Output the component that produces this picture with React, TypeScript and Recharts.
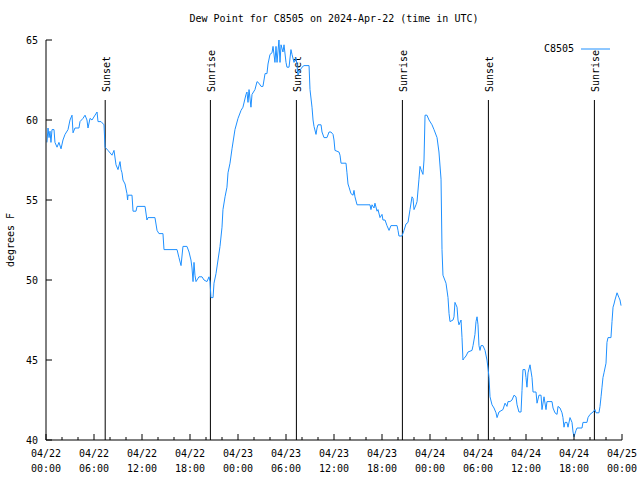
import { LineChart, Line, XAxis, YAxis, ReferenceLine, Legend } from "recharts";

const FONT = '"DejaVu Sans Mono", monospace';
const LINE_COLOR = "#1e90ff";

// hours since 04/22 00:00 UTC
const hours = [
  0.12, 0.25, 0.38, 0.5, 0.62, 0.75, 1.0, 1.12, 1.38, 1.62,
  1.88, 2.12, 2.38, 2.75, 3.0, 3.25, 3.38, 3.62, 4.12, 4.25,
  4.62, 4.88, 5.12, 5.25, 5.5, 5.75, 6.38, 6.5, 6.88, 7.25,
  7.38, 7.75, 8.25, 8.5, 8.75, 9.0, 9.25, 9.38, 9.5, 9.62,
  9.88, 10.12, 10.2, 10.25, 10.75, 10.88, 11.25, 11.38, 12.38, 12.62,
  12.75, 13.62, 13.88, 14.12, 14.62, 14.75, 16.38, 16.62, 16.88, 17.12,
  17.62, 17.88, 18.12, 18.25, 18.38, 18.5, 18.62, 18.75, 19.12, 19.5,
  19.75, 20.12, 20.38, 20.5, 20.62, 20.88, 21.0, 21.25, 21.5, 21.75,
  22.0, 22.12, 22.38, 22.62, 22.75, 23.0, 23.25, 23.62, 24.0, 24.38,
  24.62, 25.0, 25.12, 25.25, 25.38, 25.62, 25.75, 26.12, 26.38, 26.62,
  26.88, 27.12, 27.38, 27.62, 27.75, 28.0, 28.25, 28.38, 28.62, 28.75,
  28.88, 29.12, 29.25, 29.38, 29.62, 29.75, 30.0, 30.12, 30.38, 30.62,
  30.75, 31.0, 31.25, 31.38, 31.5, 31.75, 32.0, 32.25, 32.88, 33.0,
  33.25, 33.38, 33.5, 33.75, 33.88, 34.0, 34.38, 34.5, 34.75, 35.12,
  35.38, 35.62, 35.88, 36.0, 36.12, 36.62, 36.75, 36.88, 37.5, 37.62,
  37.75, 37.88, 38.12, 38.38, 38.5, 38.62, 38.88, 40.5, 40.62, 40.75,
  41.0, 41.12, 41.38, 41.5, 41.75, 42.0, 42.12, 42.38, 42.62, 42.75,
  42.88, 43.12, 43.88, 44.0, 44.12, 44.5, 44.75, 45.0, 45.25, 45.5,
  45.75, 45.88, 46.0, 46.25, 46.38, 46.62, 46.75, 46.88, 47.12, 47.25,
  47.38, 47.62, 47.88, 48.25, 48.5, 48.88, 49.12, 49.38, 49.5, 49.62,
  50.0, 50.25, 50.38, 50.5, 50.88, 51.0, 51.12, 51.38, 51.5, 51.62,
  51.88, 52.0, 52.12, 52.25, 52.5, 52.75, 53.25, 53.38, 53.62, 53.75,
  53.88, 54.0, 54.12, 54.25, 54.38, 54.62, 54.88, 55.12, 55.25, 55.38,
  55.5, 55.75, 56.0, 56.25, 56.38, 56.62, 57.12, 57.38, 57.62, 57.75,
  58.0, 58.25, 58.5, 58.75, 58.88, 59.12, 59.38, 59.5, 59.62, 59.88,
  60.0, 60.12, 60.25, 60.5, 60.75, 60.88, 61.25, 61.38, 61.62, 61.88,
  62.0, 62.25, 62.5, 62.62, 63.25, 63.38, 63.62, 63.88, 64.0, 64.25,
  64.5, 64.62, 64.75, 64.88, 65.12, 65.25, 65.5, 65.75, 65.88, 66.0,
  66.25, 66.38, 67.0, 67.12, 67.62, 67.75, 68.0, 68.25, 68.38, 68.62,
  68.75, 69.12, 69.25, 69.38, 69.5, 69.62, 69.75, 70.0, 70.12, 70.25,
  70.62, 70.75, 70.88, 71.0, 71.12, 71.38, 71.62, 71.75, 71.88,
];

const dewPoint = [
  58.6, 59.5, 58.9, 59.3, 58.6, 59.4, 59.4, 58.6, 58.3, 58.6,
  58.2, 58.75, 59.1, 59.4, 60.0, 60.3, 59.2, 59.5, 59.5, 59.9,
  60.1, 60.3, 60.0, 59.5, 60.1, 60.0, 60.5, 59.9, 59.9, 59.7,
  58.3, 58.1, 57.8, 58.1, 57.2, 56.9, 57.4, 56.9, 56.7, 56.25,
  56.0, 55.4, 55.0, 55.3, 55.3, 54.3, 54.3, 54.6, 54.6, 53.75,
  53.9, 53.9, 53.1, 52.9, 52.9, 51.9, 51.9, 51.4, 50.9, 52.1,
  52.1, 51.75, 51.25, 50.75, 49.9, 51.1, 50.3, 49.9, 50.2, 50.2,
  50.0, 49.9, 50.2, 49.9, 48.9, 48.9, 49.8, 50.4, 51.25, 52.1,
  53.3, 54.4, 55.2, 55.8, 56.7, 57.3, 58.2, 59.4, 60.1, 60.6,
  60.8, 61.6, 61.75, 61.1, 61.9, 60.8, 61.6, 61.9, 62.4, 62.3,
  62.1, 62.1, 62.9, 62.9, 63.5, 64.1, 64.2, 64.6, 63.6, 64.6,
  63.6, 65.0, 63.6, 64.7, 64.25, 64.7, 63.6, 63.3, 63.3, 64.4,
  64.1, 63.6, 63.9, 63.4, 62.8, 63.1, 63.3, 63.4, 63.4, 61.9,
  60.8, 60.0, 59.6, 59.1, 59.5, 59.7, 59.7, 59.25, 58.9, 58.9,
  59.25, 59.25, 59.1, 58.75, 58.1, 58.0, 57.8, 57.3, 57.3, 56.7,
  56.0, 55.8, 55.4, 55.3, 55.6, 55.2, 54.7, 54.7, 54.4, 54.7,
  54.5, 54.8, 54.3, 54.4, 53.9, 54.1, 53.75, 53.75, 53.4, 53.25,
  53.1, 53.4, 53.4, 53.1, 52.75, 52.75, 53.1, 53.5, 53.6, 54.4,
  55.2, 55.1, 54.4, 54.7, 54.9, 56.3, 57.1, 56.9, 56.6, 57.5,
  60.3, 60.3, 60.0, 59.7, 59.4, 58.9, 58.0, 56.3, 51.9, 50.3,
  49.8, 48.9, 47.9, 47.4, 47.5, 47.7, 48.6, 48.3, 47.5, 47.2,
  47.5, 46.4, 45.0, 45.1, 45.25, 45.5, 45.6, 45.9, 46.6, 47.4,
  47.7, 47.2, 45.9, 45.6, 45.9, 45.9, 45.6, 45.0, 44.5, 43.9,
  42.7, 42.2, 42.0, 41.7, 41.4, 41.75, 41.9, 42.3, 42.1, 42.4,
  42.4, 42.5, 42.8, 42.7, 42.2, 41.75, 41.75, 43.1, 44.4, 44.4,
  43.9, 43.3, 44.2, 44.7, 43.9, 43.0, 43.0, 42.3, 42.8, 42.8,
  41.9, 42.7, 41.9, 42.4, 42.4, 42.0, 41.7, 41.6, 42.1, 42.0,
  41.7, 41.4, 40.8, 41.1, 41.1, 40.8, 41.4, 41.1, 40.5, 40.2,
  40.6, 40.75, 40.75, 41.1, 41.1, 41.4, 41.6, 41.7, 41.75, 41.9,
  41.7, 41.7, 42.1, 42.7, 43.3, 43.9, 44.2, 44.8, 46.1, 46.4,
  46.4, 47.4, 48.3, 48.5, 48.75, 49.2, 48.9, 48.75, 48.4,
];

const xTicks = [
  0, 2, 4, 6, 8, 10, 12, 14, 16, 18, 20, 22, 24, 26, 28, 30, 32, 34, 36,
  38, 40, 42, 44, 46, 48, 50, 52, 54, 56, 58, 60, 62, 64, 66, 68, 70, 72,
];
const dateLabels = [
  "04/22", "04/22", "04/22", "04/22", "04/23", "04/23", "04/23",
  "04/23", "04/24", "04/24", "04/24", "04/24", "04/25",
];
const timeLabels = [
  "00:00", "06:00", "12:00", "18:00", "00:00", "06:00", "12:00",
  "18:00", "00:00", "06:00", "12:00", "18:00", "00:00",
];
const yTicks = [40, 45, 50, 55, 60, 65];

const sunLabels = ["Sunset", "Sunrise", "Sunset", "Sunrise", "Sunset", "Sunrise"];
const sunHours = [7.4, 20.55, 31.3, 44.55, 55.3, 68.55];
const sunLineTop = 61.25; // lines stop below the rotated labels

const chartData = hours.map((h, i) => ({ hour: h, dew: dewPoint[i] }));

function BottomTick(props: any) {
  const { x, y, payload } = props;
  const v = payload.value;
  const major = v % 6 === 0;
  return (
    <g>
      <line x1={x} y1={y} x2={x} y2={y - (major ? 6 : 3)} stroke="#000" />
      {major && (
        <text x={x} y={y} textAnchor="middle" fontFamily={FONT} fontSize={10} fill="#000">
          <tspan x={x} dy={17}>{dateLabels[v / 6]}</tspan>
          <tspan x={x} dy={15}>{timeLabels[v / 6]}</tspan>
        </text>
      )}
    </g>
  );
}

function TopTick(props: any) {
  const { x, y, payload } = props;
  const major = payload.value % 6 === 0;
  return <line x1={x} y1={y} x2={x} y2={y + (major ? 6 : 3)} stroke="#000" />;
}

function LeftTick(props: any) {
  const { x, y, payload } = props;
  return (
    <g>
      <line x1={x} y1={y} x2={x + 6} y2={y} stroke="#000" />
      <text x={x - 8} y={y + 4} textAnchor="end" fontFamily={FONT} fontSize={10} fill="#000">
        {payload.value}
      </text>
    </g>
  );
}

function RightTick(props: any) {
  const { x, y } = props;
  return <line x1={x} y1={y} x2={x - 6} y2={y} stroke="#000" />;
}

function SunLabel({ viewBox, text }: any) {
  const tx = viewBox.x + 4.5;
  const ty = viewBox.y - 8;
  return (
    <text
      x={tx}
      y={ty}
      transform={`rotate(-90 ${tx} ${ty})`}
      fontFamily={FONT}
      fontSize={10}
      fill="#000"
    >
      {text}
    </text>
  );
}

function YLabel({ viewBox }: any) {
  const tx = viewBox.x + 14;
  const ty = viewBox.y + viewBox.height / 2;
  return (
    <text
      x={tx}
      y={ty}
      transform={`rotate(-90 ${tx} ${ty})`}
      textAnchor="middle"
      fontFamily={FONT}
      fontSize={10}
      fill="#000"
    >
      degrees F
    </text>
  );
}

function LegendContent() {
  return (
    <div style={{ display: "flex", alignItems: "center", fontFamily: FONT, fontSize: 10, lineHeight: "10px" }}>
      <span style={{ width: 34, textAlign: "right" }}>C8505</span>
      <svg width={36} height={10}>
        <line x1={7} y1={5} x2={36} y2={5} stroke={LINE_COLOR} />
      </svg>
    </div>
  );
}

export default function App() {
  return (
    <div style={{ position: "absolute", left: 0, top: 0, width: 640, height: 480, background: "#fff" }}>
      <div
        style={{
          position: "absolute",
          left: 46,
          top: 13,
          width: 576,
          textAlign: "center",
          fontFamily: FONT,
          fontSize: 10,
          lineHeight: "12px",
        }}
      >
        Dew Point for C8505 on 2024-Apr-22 (time in UTC)
      </div>
      <LineChart
        width={640}
        height={480}
        data={chartData}
        margin={{ top: 40, right: 18, bottom: 0, left: 0 }}
      >
        <XAxis
          dataKey="hour"
          type="number"
          domain={[0, 72]}
          ticks={xTicks}
          interval={0}
          height={40}
          tickSize={0}
          tickMargin={0}
          tickLine={false}
          axisLine={{ stroke: "#000" }}
          tick={<BottomTick />}
          allowDataOverflow
        />
        <XAxis
          xAxisId="top"
          orientation="top"
          type="number"
          domain={[0, 72]}
          ticks={xTicks}
          interval={0}
          height={0}
          tickSize={0}
          tickMargin={0}
          tickLine={false}
          axisLine={{ stroke: "#000" }}
          tick={<TopTick />}
          allowDataOverflow
        />
        <YAxis
          type="number"
          domain={[40, 65]}
          ticks={yTicks}
          interval={0}
          width={46}
          tickSize={0}
          tickMargin={0}
          tickLine={false}
          axisLine={{ stroke: "#000" }}
          tick={<LeftTick />}
          label={(p: any) => <YLabel viewBox={p.viewBox} />}
          allowDataOverflow
        />
        <YAxis
          yAxisId="right"
          orientation="right"
          type="number"
          domain={[40, 65]}
          ticks={yTicks}
          interval={0}
          width={0}
          tickSize={0}
          tickMargin={0}
          tickLine={false}
          axisLine={{ stroke: "#000" }}
          tick={<RightTick />}
          allowDataOverflow
        />
        {sunHours.map((h, i) => (
          <ReferenceLine
            key={i}
            segment={[
              { x: h, y: 40 },
              { x: h, y: sunLineTop },
            ]}
            stroke="#000"
            strokeWidth={1}
            label={(p: any) => <SunLabel viewBox={p.viewBox} text={sunLabels[i]} />}
          />
        ))}
        <Line
          type="linear"
          dataKey="dew"
          stroke={LINE_COLOR}
          strokeWidth={1}
          dot={false}
          isAnimationActive={false}
        />
        <Legend
          layout="horizontal"
          verticalAlign="middle"
          align="center"
          content={<LegendContent />}
          wrapperStyle={{ left: 540, top: 44, width: 80, height: 10 }}
        />
      </LineChart>
    </div>
  );
}
